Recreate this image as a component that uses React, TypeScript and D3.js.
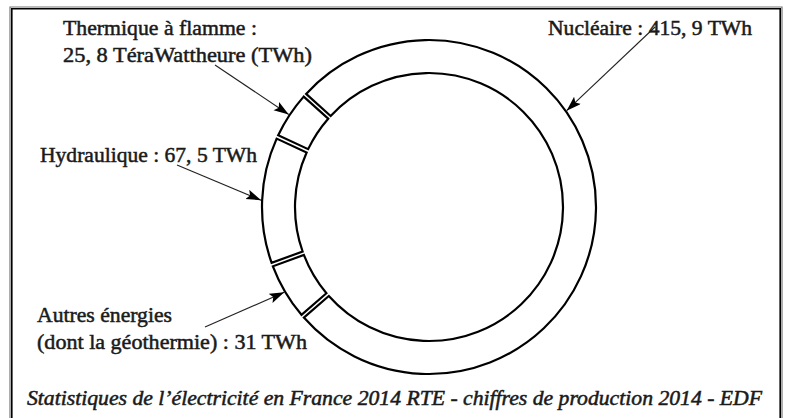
import React from "react";
import * as d3 from "d3";

const categories = ["Nucléaire", "Autres énergies", "Hydraulique", "Thermique à flamme"];
const values = [415.9, 31, 67.5, 25.8];
const labelLines = [
  ["Nucléaire : 415, 9 TWh"],
  ["Autres énergies", "(dont la géothermie) : 31 TWh"],
  ["Hydraulique : 67, 5 TWh"],
  ["Thermique à flamme :", "25, 8 TéraWattheure (TWh)"],
];
const caption = "Statistiques de l’électricité en France 2014 RTE - chiffres de production 2014 - EDF";

const W = 785;
const H = 418;
const cx = 429;
const cy = 207;
const rOuter = 167;
const rInner = 134;
const SERIF = "'Liberation Serif', 'DejaVu Serif', serif";

const labelLayout = [
  { x: 548, y: 35, widths: [204], from: [655, 27], tipAngle: 55 },
  { x: 37, y: 322, widths: [135, 270], from: [205, 327], tipAngle: null },
  { x: 40, y: 162, widths: [217], from: [177, 165], tipAngle: null },
  { x: 63, y: 35, widths: [194, 249], from: [215, 65], tipAngle: null },
];

export default function App() {
  const pie = d3
    .pie<number>()
    .sort(null)
    .value((d) => d)
    .startAngle((-48 * Math.PI) / 180)
    .endAngle((-48 * Math.PI) / 180 + 2 * Math.PI);
  const arcs = pie(values);
  const arc = d3
    .arc<d3.PieArcDatum<number>>()
    .innerRadius(rInner)
    .outerRadius(rOuter)
    .padAngle(0.017);

  const tipR = rOuter + 1;
  const line = d3.line();

  return (
    <svg
      width={W}
      height={H}
      style={{ position: "absolute", left: 0, top: 0, background: "#fff" }}
    >
      <defs>
        <marker
          id="ah"
          markerUnits="userSpaceOnUse"
          markerWidth={16}
          markerHeight={12}
          refX={15}
          refY={5}
          orient="auto"
        >
          <path d="M0,0 L15,5 L0,10 L3,5 Z" fill="#000" />
        </marker>
      </defs>
      <rect x={0} y={0} width={W} height={H} fill="#fff" />
      <path d={`M10,${H} V7 H782 V${H}`} fill="none" stroke="#777" strokeWidth={1.2} />
      <path d={`M11.8,${H} V8.8 H780.2 V${H}`} fill="none" stroke="#000" strokeWidth={1.6} />

      <g transform={`translate(${cx},${cy})`}>
        {arcs.map((a, i) => (
          <path key={categories[i]} d={arc(a) || ""} fill="#fff" stroke="#000" strokeWidth={2.2} strokeLinejoin="miter" />
        ))}
      </g>

      {arcs.map((a, i) => {
        const lay = labelLayout[i];
        const ang =
          lay.tipAngle != null ? (lay.tipAngle * Math.PI) / 180 : (a.startAngle + a.endAngle) / 2;
        const tip: [number, number] = [cx + tipR * Math.sin(ang), cy - tipR * Math.cos(ang)];
        return (
          <g key={"lab" + i}>
            <path
              d={line([lay.from as [number, number], tip]) || ""}
              stroke="#222"
              strokeWidth={1.1}
              fill="none"
              markerEnd="url(#ah)"
            />
            {labelLines[i].map((t, j) => (
              <text
                key={j}
                x={lay.x}
                y={lay.y + j * 27}
                style={{ fontFamily: SERIF, fontSize: "21px", fontWeight: 400 }}
                fill="#1a1a1a"
                stroke="#1a1a1a"
                strokeWidth={0.5}
                textLength={lay.widths[j]}
                lengthAdjust="spacingAndGlyphs"
              >
                {t}
              </text>
            ))}
          </g>
        );
      })}

      <text
        x={27}
        y={405}
        style={{ fontFamily: SERIF, fontSize: "20px", fontStyle: "italic", fontWeight: 400 }}
        fill="#1a1a1a"
        stroke="#1a1a1a"
        strokeWidth={0.5}
        textLength={735}
        lengthAdjust="spacingAndGlyphs"
      >
        {caption}
      </text>
    </svg>
  );
}
